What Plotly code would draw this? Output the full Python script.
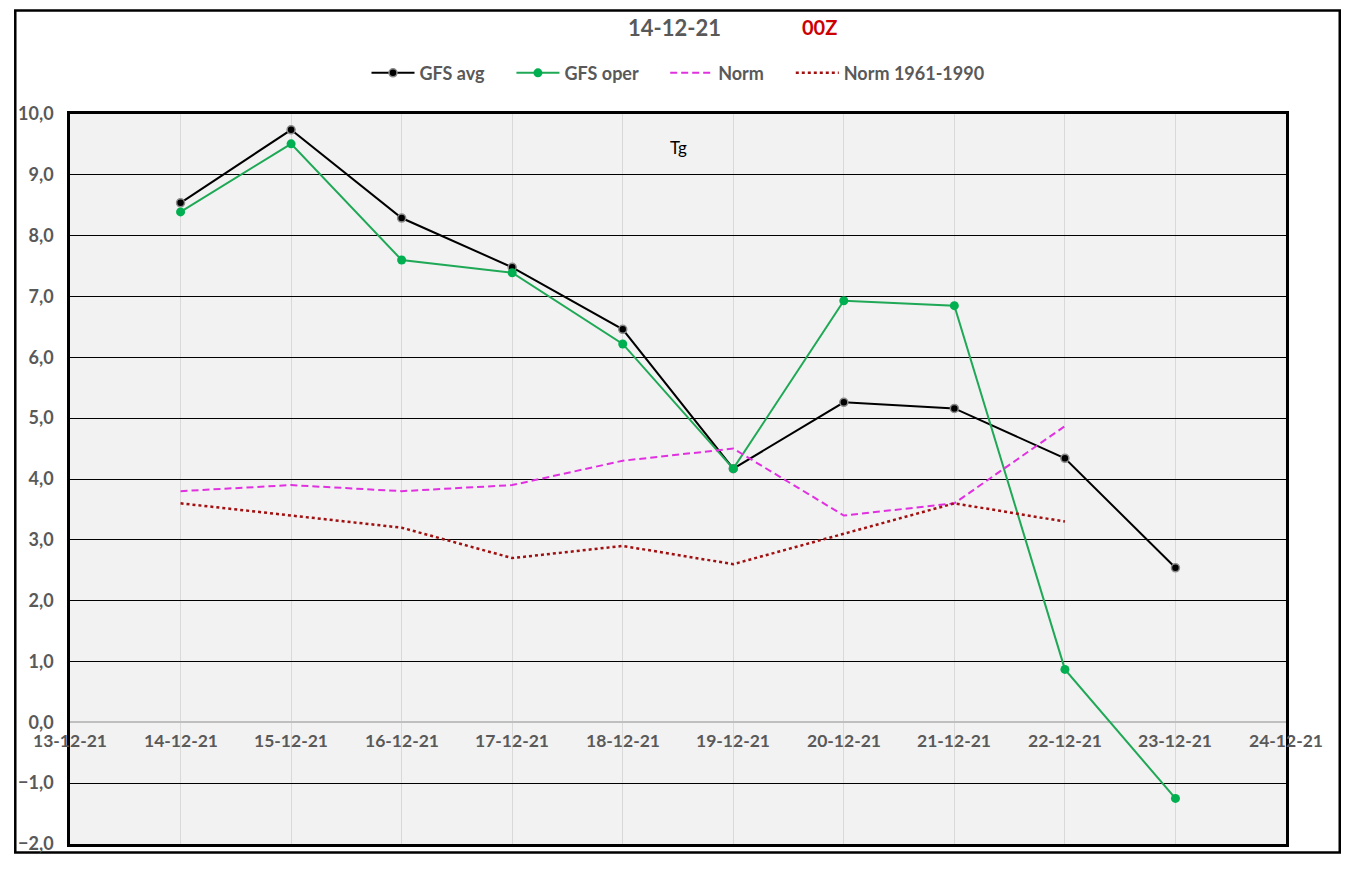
import plotly.graph_objects as go

days = ["2021-12-14", "2021-12-15", "2021-12-16", "2021-12-17", "2021-12-18",
        "2021-12-19", "2021-12-20", "2021-12-21", "2021-12-22", "2021-12-23"]
gfs_avg = [8.54, 9.74, 8.29, 7.48, 6.46, 4.17, 5.26, 5.16, 4.34, 2.54]
gfs_oper = [8.39, 9.51, 7.60, 7.39, 6.22, 4.17, 6.93, 6.85, 0.87, -1.25]
norm = [3.8, 3.9, 3.8, 3.9, 4.3, 4.5, 3.4, 3.6, 4.87]
norm_6190 = [3.6, 3.4, 3.2, 2.7, 2.9, 2.6, 3.1, 3.6, 3.3]

tick_days = ["2021-12-13", "2021-12-14", "2021-12-15", "2021-12-16", "2021-12-17", "2021-12-18",
             "2021-12-19", "2021-12-20", "2021-12-21", "2021-12-22", "2021-12-23", "2021-12-24"]
tick_labels = ["13-12-21", "14-12-21", "15-12-21", "16-12-21", "17-12-21", "18-12-21",
               "19-12-21", "20-12-21", "21-12-21", "22-12-21", "23-12-21", "24-12-21"]

FONT = "Lato"
GREY = "#595959"
PAD = "\u00a0" * 5  # extra room between legend entries

fig = go.Figure()
fig.add_trace(go.Scatter(x=days, y=gfs_avg, name="GFS avg" + PAD, mode="lines+markers",
                         line=dict(color="black", width=2),
                         marker=dict(color="black", size=8, line=dict(color="#8c8c8c", width=1.5))))
fig.add_trace(go.Scatter(x=days, y=gfs_oper, name="GFS oper" + PAD, mode="lines+markers",
                         line=dict(color="#1fa856", width=2),
                         marker=dict(color="#00b050", size=9)))
fig.add_trace(go.Scatter(x=days[:9], y=norm, name="Norm" + PAD, mode="lines",
                         line=dict(color="#e030e0", width=2, dash="7px,4px")))
fig.add_trace(go.Scatter(x=days[:9], y=norm_6190, name="Norm 1961-1990", mode="lines",
                         line=dict(color="#a01010", width=2.5, dash="dot")))

# x labels sit just under the zero line, like the Excel axis crossing
for d, lab in zip(tick_days, tick_labels):
    fig.add_annotation(x=d, y=0, xref="x", yref="y", text=lab, showarrow=False,
                       yanchor="top", yshift=-6,
                       font=dict(family=FONT, size=17.5, color=GREY, weight="bold"))

fig.add_annotation(x=0.5, y=0.954, xref="paper", yref="paper", text="Tg", showarrow=False,
                   yanchor="middle", font=dict(family=FONT, size=17, color="black"))
fig.add_annotation(x=0.4975, y=1.119, xref="paper", yref="paper", showarrow=False,
                   yanchor="middle", text="<b>14-12-21</b>",
                   font=dict(family=FONT, size=22, color=GREY))
fig.add_annotation(x=0.616, y=1.119, xref="paper", yref="paper", showarrow=False,
                   yanchor="middle", text="<b>00Z</b>",
                   font=dict(family=FONT, size=20, color="#cc0000"))

# outer chart border
fig.add_shape(type="rect", xref="paper", yref="paper",
              x0=-0.045, x1=1.0442, y0=-0.0115, y1=1.1419,
              line=dict(color="black", width=2.5), layer="below")

fig.update_layout(
    width=1333, height=856,
    margin=dict(l=56, r=55, t=106, b=10),
    paper_bgcolor="white", plot_bgcolor="#f2f2f2",
    separators=",.",
    showlegend=True,
    legend=dict(orientation="h", x=0.5, xanchor="center", y=1.056, yanchor="middle",
                itemwidth=43,
                font=dict(family=FONT, size=18, color=GREY, weight="bold"),
                bgcolor="rgba(0,0,0,0)"),
    font=dict(family=FONT),
)
fig.update_xaxes(type="date", range=["2021-12-13", "2021-12-24"], tickvals=tick_days,
                 showticklabels=False, showgrid=True, gridcolor="#d9d9d9", gridwidth=1,
                 showline=True, linecolor="black", linewidth=2.5, mirror=True, zeroline=False)
fig.update_yaxes(range=[-2, 10], dtick=1, tickformat=".1f",
                 tickfont=dict(family=FONT, size=18, color=GREY, weight="bold"),
                 ticklabeloverflow="allow",
                 showgrid=True, gridcolor="black", gridwidth=1,
                 zeroline=True, zerolinecolor="#bfbfbf", zerolinewidth=1.5,
                 showline=True, linecolor="black", linewidth=2.5, mirror=True, ticks="",
                 ticklabelstandoff=10)

fig.write_html("out.html")
